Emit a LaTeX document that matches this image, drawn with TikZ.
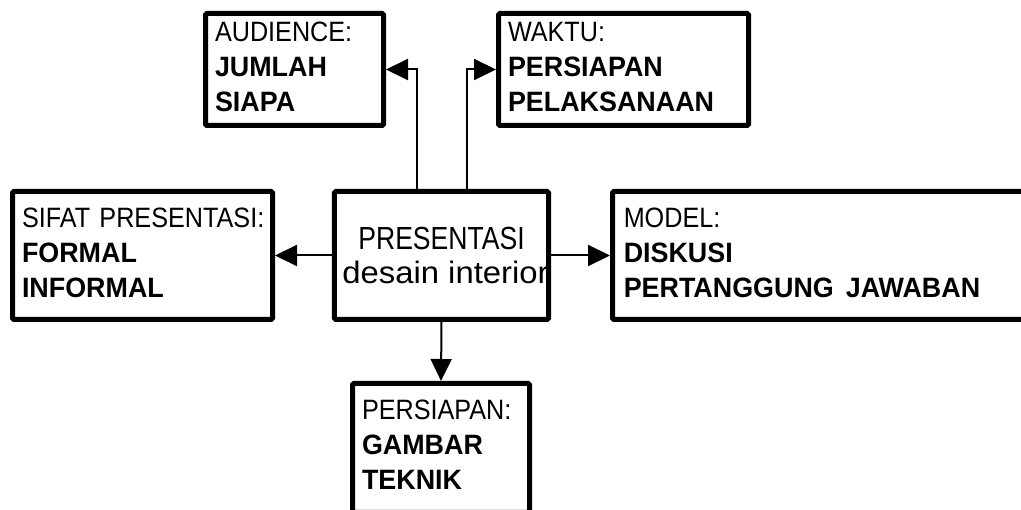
\documentclass[tikz,border=0pt]{standalone}
\usepackage{fontspec}
\setmainfont{Liberation Sans}
\newfontfamily\narrowfont[FakeStretch=0.9]{Liberation Sans}
\newfontfamily\titlefont[FakeStretch=0.83]{Liberation Sans}
\newfontfamily\widefont[FakeStretch=1.06]{Liberation Sans}
\newfontfamily\heavyfont[FakeStretch=0.96]{Liberation Sans Bold}
\newcommand\heavy[1]{{\heavyfont #1}}
\usetikzlibrary{arrows.meta}
\tikzset{
    infobox/.style={draw, line width=5pt, rounded corners=1.5pt, align=left, inner xsep=9.5pt, inner ysep=0pt,
        font=\fontsize{28}{35}\selectfont, execute at begin node=\strut, execute at end node=\strut},
    link/.style={line width=2pt, -{Triangle[length=22pt,width=21pt]}}
}
\begin{document}
\begin{tikzpicture}[x=1pt, y=-1pt]
    \clip (0,0) rectangle (1021,510);
    \node[draw, line width=5pt, rounded corners=1.5pt, minimum width=210pt, minimum height=128pt, inner sep=0pt, align=center,
        font=\fontsize{31}{34}\selectfont] (pres) at (441.5,255.5) {{\titlefont\fontsize{32}{34}\selectfont PRESENTASI}\\ {\widefont\hspace*{8pt}desain interior}};
    \node[infobox, minimum width=178pt, minimum height=112pt, text width=159pt] (aud) at (294.5,69.5) {{\narrowfont AUDIENCE:}\\ \heavy{JUMLAH}\\ \heavy{SIAPA}};
    \node[infobox, minimum width=250pt, minimum height=112pt, text width=231pt] (wak) at (623.5,69.5) {{\narrowfont WAKTU:}\\ \heavy{PERSIAPAN}\\ \heavy{PELAKSANAAN}};
    \node[infobox, minimum width=260pt, minimum height=128pt, text width=241pt] (sif) at (142.5,255.5) {\mbox{\narrowfont SIFAT PRESENTASI:}\\ \heavy{FORMAL}\\ \heavy{INFORMAL}};
    \node[infobox, minimum width=427.5pt, minimum height=128pt, text width=405pt, inner xsep=11pt] (mod) at (826.25,255.5) {{\narrowfont MODEL:}\\ \heavy{DISKUSI}\\ \heavy{PERTANGGUNG\hspace{12pt}JAWABAN}};
    \node[infobox, minimum width=177pt, minimum height=129pt, text width=158pt] (per) at (441,448) {{\narrowfont PERSIAPAN:}\\ \heavy{GAMBAR}\\ \heavy{TEKNIK}};
    \draw[link] (pres.west) -- (sif.east);
    \draw[link] (pres.east) -- (mod.west);
    \draw[link] (pres.south) -- (per.north);
    \draw[link] ([xshift=-24.5pt]pres.north) |- (aud.east);
    \draw[link] ([xshift=25pt]pres.north) |- (wak.west);
\end{tikzpicture}
\end{document}
